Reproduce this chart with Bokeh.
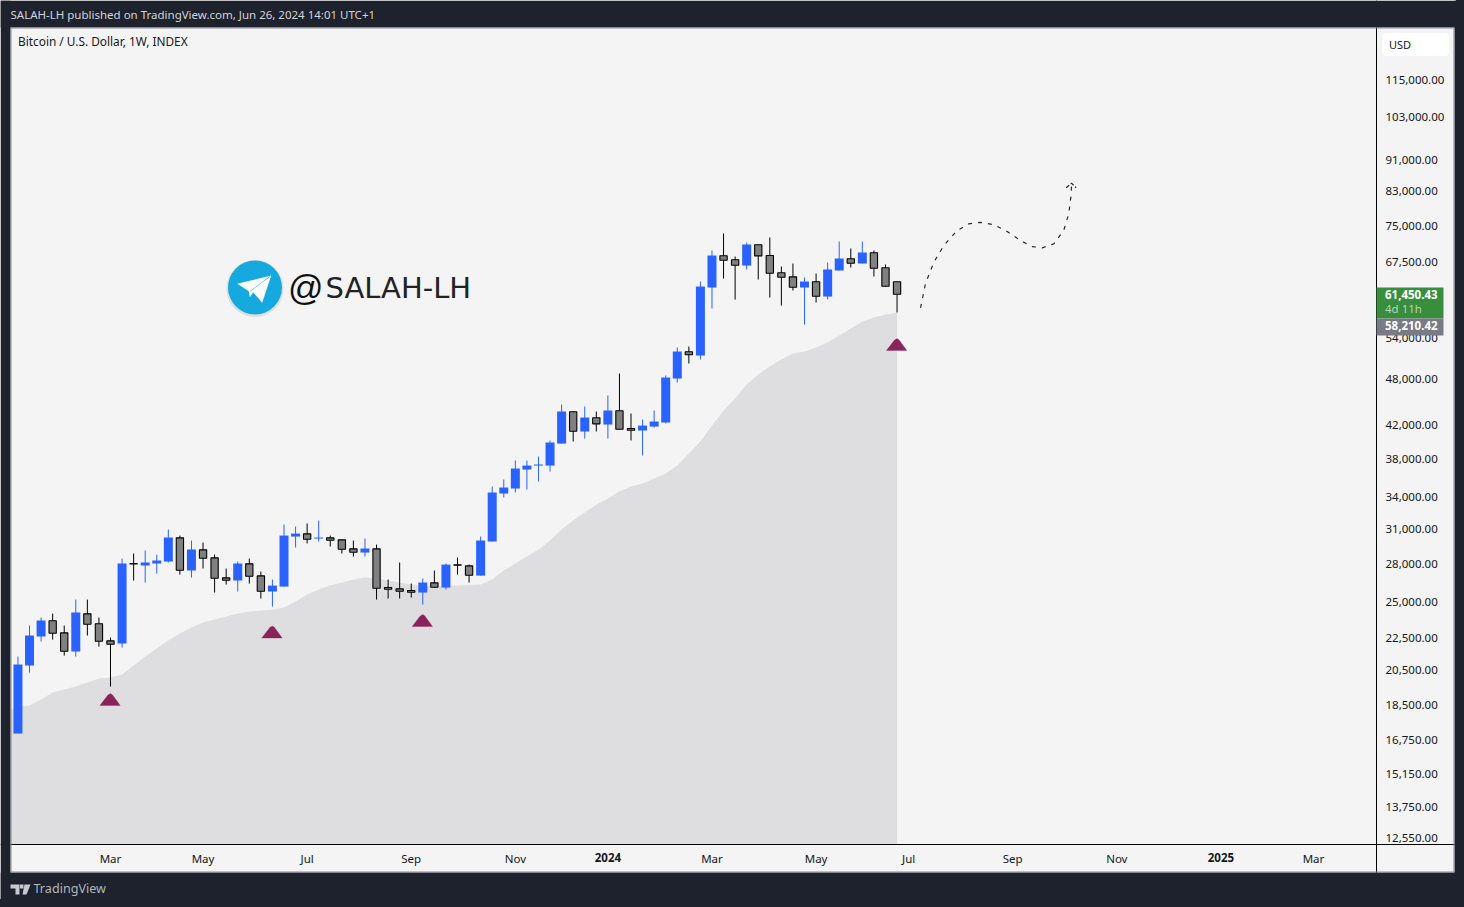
import math
from bokeh.plotting import figure
from bokeh.models import (Range1d, FixedTicker, NumeralTickFormatter, BoxAnnotation, Label,
                          PolyAnnotation, ColumnDataSource)
from bokeh.embed import file_html
from bokeh.resources import INLINE

# ---------- data ----------
opens = [17043, 20790, 22622, 23690, 22870, 21655, 24173, 23480, 22340, 22165,
         27990, 27831, 27997, 28162, 30175, 27431, 29140, 28466, 26850, 26642,
         27970, 27006, 25800, 26177, 30290, 30525, 30115, 30175, 30003, 29225,
         28910, 29225, 26100, 26000, 25875, 25724, 26463, 26100, 27890, 27808,
         27031, 29855, 34344, 34850, 36837, 37266, 37266, 39741, 43595, 41159,
         42840, 42006, 43723, 41520, 41279, 41760, 42254, 48045, 51940, 51380,
         62660, 68750, 67940, 66813, 70980, 68810, 65410, 64645, 62660, 63720,
         61030, 65852, 68140, 67210, 69340, 66370, 63720]
closes = [20847, 22688, 23706, 22843, 21674, 24265, 23450, 22315, 22120, 27997,
          27960, 28079, 28244, 30204, 27455, 29165, 28433, 26820, 26665, 27997,
          26975, 25822, 26253, 30379, 30554, 30056, 30204, 29968, 29190, 28936,
          29250, 26050, 25972, 25822, 25747, 26486, 26127, 27912, 27860, 27055,
          29942, 34445, 34950, 36945, 37266, 37380, 39858, 43633, 41195, 42875,
          42093, 43761, 41436, 41315, 41880, 42378, 48185, 51985, 51490, 62840,
          68800, 67860, 66873, 71040, 68730, 65335, 64575, 62720, 63770, 61084,
          66045, 68200, 67270, 69400, 66280, 62890, 61450]
highs = [21339, 23360, 23914, 24194, 23360, 25204, 25204, 23914, 22557, 28409,
         28825, 29080, 28740, 30919, 30379, 29942, 29767, 28740, 27591, 28162,
         28409, 27351, 26720, 31371, 31189, 31465, 31742, 30379, 30030, 29942,
         30117, 29590, 26720, 28079, 26409, 26798, 27431, 27997, 28490, 27915,
         30290, 35052, 35777, 37818, 37818, 38260, 40092, 44531, 43633, 44272,
         43633, 45715, 48750, 43378, 42626, 43761, 48470, 52600, 52745, 63770,
         69811, 73360, 68600, 71460, 71040, 72510, 66620, 67210, 64520, 65275,
         67410, 71670, 70220, 71670, 69811, 67010, 63770]
lows = [17043, 20366, 22296, 22426, 21401, 21339, 22688, 21969, 19550, 21908,
        26642, 26486, 27191, 28079, 27111, 26870, 27591, 25724, 26331, 25800,
        26409, 25278, 24693, 26177, 29335, 29682, 29855, 29420, 28825, 28580,
        28580, 25204, 25278, 25278, 25352, 24838, 26100, 25950, 27111, 26486,
        27031, 29855, 33945, 34445, 34748, 35569, 36623, 39741, 39975, 40326,
        41159, 40326, 41400, 40092, 38370, 41640, 42130, 47490, 50200, 50785,
        58940, 64330, 60500, 66045, 64145, 60860, 59450, 62118, 56245, 59979,
        60507, 65852, 66430, 67210, 64700, 62840, 58250]
# moving-average cloud, from the week before the first candle to the last one
cloud = [18175, 18439, 18494, 18823, 19211, 19380, 19550, 19784, 20013, 20075, 20250,
         20788, 21339, 21845, 22361, 22825, 23225, 23570, 23775, 23985, 24195,
         24337, 24408, 24480, 24623, 25058, 25580, 25950, 26253, 26486, 26720,
         26875, 26798, 26642, 26486, 26331, 26253, 26177, 26215, 26253, 26292,
         26331, 26720, 27431, 27997, 28575, 29165, 29942, 30919, 31742, 32495,
         33260, 33850, 34547, 35052, 35360, 35877, 36410, 37260, 38600, 39975,
         41880, 43761, 45320, 47210, 48620, 49760, 50785, 51685, 51985, 52600,
         53370, 54470, 55595, 56745, 57420, 57930, 58210]
marker_weeks = [8, 22, 35, 76]
marker_prices = [18823, 22923, 23706, 53055]
path_weeks = [78.03, 78.46, 79.18, 80.04, 81.2, 82.2, 83.21, 84.36, 85.52, 86.67,
              87.68, 88.55, 89.55, 90.41, 90.85, 91.06, 91.08]
path_prices = [59046, 63398, 67465, 70830, 74008, 75456, 75802, 75280, 73790, 71879,
               70620, 70360, 71186, 74008, 77775, 82380, 84893]
arrow_weeks = [90.62, 91.08, 91.48]
arrow_prices = [83835, 84967, 83835]
price_ticks = [115000, 103000, 91000, 83000, 75000, 67500, 54000, 48000, 42000, 38000, 34000,
               31000, 28000, 25000, 22500, 20500, 18500, 16750, 15150, 13750, 12550]
month_ticks = [8, 16, 25, 34, 43, 60, 69, 77, 86, 95, 112]
month_labels = ["Mar", "May", "Jul", "Sep", "Nov", "Mar", "May", "Jul", "Sep", "Nov", "Mar"]
year_ticks = [51, 104]
year_labels = ["2024", "2025"]

assert all(len(s) == 77 for s in (opens, closes, highs, lows)) and len(cloud) == 78

# ---------- colours ----------
DARK = "#1e222d"; PANEL = "#f4f4f4"; BLUE = "#2962ff"; GREY = "#808080"; AREA = "#dedee1"
MAROON = "#851b53"; INK = "#131722"
FONT = "Noto Sans"

# ---------- scales (reference pixels; the frame fills the whole canvas) ----------
W, H = 1456, 899
PX0, SLOPE = 17.46, 11.567      # x pixel of week 0, pixels per week
PY0, K = 79.0, 342.6            # y pixel of 115000, pixels per log unit
to_week = lambda px: (px - PX0) / SLOPE
to_price = lambda py: 115000 * math.exp(-(py - PY0) / K)

p = figure(width=W, height=H, output_backend="svg", toolbar_location=None,
           x_range=Range1d(to_week(0), to_week(W)), y_range=Range1d(to_price(H), to_price(0)),
           y_axis_type="log", y_axis_location="right", tools="",
           min_border_left=0, min_border_top=0, min_border_right=0, min_border_bottom=0,
           background_fill_color=PANEL, border_fill_color=DARK, outline_line_color=None)
p.styles = {"box-shadow": "0 0 0 8px " + DARK}
p.grid.visible = False


def box(l, t, r, b, fill, line=None, level="annotation", radius=0):
    p.add_layout(BoxAnnotation(left=l, right=r, top=t, bottom=b,
                               left_units="canvas", right_units="canvas", top_units="canvas", bottom_units="canvas",
                               fill_color=fill, fill_alpha=1 if fill else 0, line_color=line, line_alpha=1 if line else 0,
                               line_width=1, level=level, border_radius=radius))


def txt(px, py, s, size="11.5px", color=INK, style="normal", font=FONT, align="left"):
    p.add_layout(Label(x=px, y=H - py + 1, x_units="screen", y_units="screen", text=s,
                       text_font_size=size, text_color=color, text_font=font, text_font_style=style,
                       text_align=align, text_baseline="middle", level="overlay"))


# cloud
cw = list(range(-1, 77))
p.varea(x=cw, y1=cloud, y2=[to_price(844)] * len(cw), fill_color=AREA, fill_alpha=1)

# candles
up = [i for i in range(77) if closes[i] >= opens[i]]
dn = [i for i in range(77) if closes[i] < opens[i]]
src = lambda ids: ColumnDataSource(dict(x=ids, o=[opens[i] for i in ids], c=[closes[i] for i in ids],
                                        h=[highs[i] for i in ids], l=[lows[i] for i in ids]))
su, sd = src(up), src(dn)
p.segment("x", "h", "x", "l", source=su, line_color=BLUE, line_width=1)
p.segment("x", "h", "x", "l", source=sd, line_color="#000000", line_width=1)
p.vbar(x="x", top="c", bottom="o", width=0.778, source=su, fill_color=BLUE, line_color=None)
p.vbar(x="x", top="o", bottom="c", width=0.63, source=sd, fill_color=GREY, line_color="#000000", line_width=1.1)

# triangles under the swing lows
for w, pr in zip(marker_weeks, marker_prices):
    ky = lambda d: pr * math.exp(-d / K)
    p.patch([w - 0.92, w - 0.22, w - 0.04, w + 0.04, w + 0.18, w + 0.84, w - 0.92],
            [ky(6), ky(-4.5), ky(-5.8), ky(-5.8), ky(-4.5), ky(6), ky(6)],
            fill_color=MAROON, fill_alpha=0.96, line_color=MAROON, line_alpha=0.5, line_width=0.6)

# forecast path
p.line(path_weeks, path_prices, line_color="#2a2a2a", line_width=1.2, line_dash="4 6")
p.line(arrow_weeks, arrow_prices, line_color="#2a2a2a", line_width=1.2, line_dash="4 2")

# axes: side axes, pinned at the chart's own edges
ya = p.yaxis[0]
ya.fixed_location = to_week(1376)
ya.ticker = FixedTicker(ticks=price_ticks)
ya.formatter = NumeralTickFormatter(format="0,0.00")
ya.major_tick_line_color = None; ya.minor_tick_line_color = None
ya.major_tick_out = 0; ya.major_tick_in = 0; ya.minor_tick_out = 0; ya.minor_tick_in = 0
ya.axis_line_color = "#000000"; ya.major_label_standoff = 9
ya.major_label_text_font = FONT; ya.major_label_text_font_size = "11.5px"
ya.major_label_text_color = INK

xa = p.xaxis[0]
xa.fixed_location = to_price(844)
xa.ticker = FixedTicker(ticks=month_ticks)
xa.major_label_overrides = dict(zip(month_ticks, month_labels))
xa.major_tick_line_color = None; xa.minor_tick_line_color = None
xa.major_tick_out = 0; xa.major_tick_in = 0; xa.minor_tick_out = 0; xa.minor_tick_in = 0
xa.axis_line_color = "#000000"; xa.major_label_standoff = 6
xa.major_label_text_font = FONT; xa.major_label_text_font_size = "11.5px"
xa.major_label_text_color = INK

for w, s in zip(year_ticks, year_labels):
    p.add_layout(Label(x=w, y=H - 857, x_units="data", y_units="screen", text=s, text_font=FONT,
                       text_font_size="11.5px", text_font_style="bold", text_color=INK,
                       text_align="center", text_baseline="middle", level="overlay"))

# logo
lx, ly = to_week(254.5), to_price(287)
p.scatter([lx], [to_price(288)], size=57, marker="circle", fill_color="#9a9a9a", fill_alpha=0.25, line_color=None)
p.scatter([lx], [ly], size=54, marker="circle", fill_color="#15a9e0", line_color=None)
plane_x = [270.7, 236.7, 248.3, 249.3, 252.7, 261.7, 270.7]
plane_y = [275, 283.3, 290.7, 296.7, 291.7, 302.3, 275]
p.patch([to_week(v) for v in plane_x], [to_price(v) for v in plane_y], fill_color="#ffffff", line_color=None)
p.line([to_week(v) for v in (249.3, 270.7)], [to_price(v) for v in (291, 275)], line_color="#7fcdec", line_width=1)
txt(287.5, 288, "@", size="35px", color="#111111", font="Liberation Sans")
txt(325, 288.5, "SALAH-LH", size="29px", color="#222222", font="DejaVu Sans")

# dark chrome round the chart
box(0, 0, W, 27, DARK)
box(0, 872, W, H, DARK)
box(0, 0, 10, H, DARK)
box(1454, 0, W, H, DARK)
box(10.5, 27.5, 1453.5, 871.5, None, "#868993")

# texts on the chrome
txt(10, 14.5, "SALAH-LH published on TradingView.com, Jun 26, 2024 14:01 UTC+1", size="11.5px", color="#d1d4dc")
txt(17.5, 41.5, "Bitcoin / U.S. Dollar, 1W, INDEX", size="11.85px")

box(1381, 32, 1449, 56, "#ffffff", "#f0f3fa", radius=4)
txt(1388.5, 44.5, "USD", size="11px")

box(1376, 287, 1443, 318, "#388e3c")
box(1376, 318, 1443, 335, "#787b86")
txt(1384.5, 295, "61,450.43", color="#ffffff", style="bold")
txt(1384.5, 309, "4d 11h", color="#b5d6b7")
txt(1384.5, 325.5, "58,210.42", color="#ffffff", style="bold")

# TradingView footer mark
for xs, ys in (([10, 19, 19, 15, 15, 10], [884, 884, 894, 894, 888, 888]),
               ([24, 30, 26, 22], [884, 884, 894, 894])):
    p.add_layout(PolyAnnotation(xs=xs, ys=ys, xs_units="canvas", ys_units="canvas",
                                fill_color="#c8cad0", fill_alpha=1, line_color=None, level="overlay"))
box(19.5, 884, 23, 888, "#c8cad0", level="overlay")
txt(33, 889, "TradingView", size="12.6px", color="#b2b5be")

html = file_html(p, INLINE)
open("out.html", "w").write(html)
